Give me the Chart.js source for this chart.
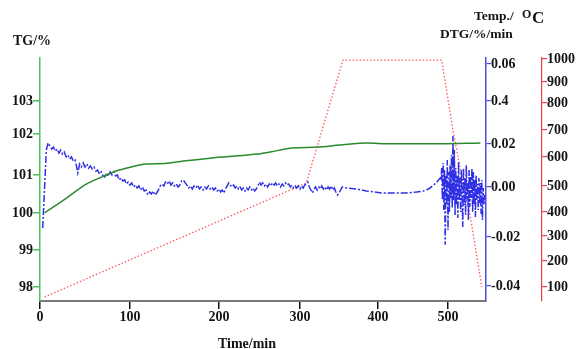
<!DOCTYPE html>
<html>
<head>
<meta charset="utf-8">
<script src="https://cdn.jsdelivr.net/npm/chart.js@4.4.1/dist/chart.umd.min.js"></script>
<style>
  body { margin: 0; background: #fff; }
  #wrap { width: 576px; height: 349px; }
</style>
</head>
<body>
<div id="wrap"><canvas id="tgChart" width="576" height="349"></canvas></div>
<script>
// ---- data: [time (min), value] ----
const tgPoints = [
  [5, 100.0], [31, 100.42], [50, 100.74], [69, 100.95], [88, 101.12], [106, 101.22],
  [117, 101.27], [139, 101.28], [160, 101.34], [190, 101.41], [247, 101.51], [263, 101.56],
  [291, 101.66], [322, 101.68], [351, 101.73], [386, 101.78], [417, 101.76], [489, 101.76],
  [546, 101.78]
];

const tempPoints = [
  [5, 60], [308, 510], [355, 995], [491, 995], [507, 700], [517, 565],
  [521, 515], [531, 395], [548, 100]
];

// DTG: first rise and noisy part up to ~355 min
const dtgEarly = [
  [3, -0.0164], [5, -0.0012], [7, 0.0172], [9, 0.0205], [11, 0.019], [13, 0.0177],
  [15, 0.0186], [17, 0.0167], [19, 0.0177], [21, 0.0158], [23, 0.0172], [25, 0.0153],
  [27, 0.0163], [29, 0.014], [31, 0.0149], [33, 0.013], [35, 0.014], [37, 0.0121],
  [39, 0.0126], [41, 0.0088], [42, 0.0065], [44, 0.0107], [46, 0.0093], [48, 0.0112],
  [50, 0.0093], [52, 0.0107], [54, 0.0088], [56, 0.0098], [58, 0.0084], [60, 0.0093],
  [62, 0.0074], [64, 0.0079], [66, 0.006], [68, 0.007], [70, 0.0051], [72, 0.0047],
  [74, 0.0065], [76, 0.0051], [78, 0.007], [80, 0.0056], [82, 0.007], [84, 0.0051],
  [86, 0.0056], [88, 0.0033], [90, 0.0042], [92, 0.0028], [94, 0.0033], [96, 0.0014],
  [98, 0.0023], [100, 0.0009], [102, 0.0019], [104, 0], [106, 0.0009], [108, -0.0004],
  [110, 0.0005], [112, -0.0012], [114, 0], [116, -0.0016], [118, -0.0012], [120, -0.0032],
  [122, -0.002], [124, -0.0028], [126, -0.0016], [128, -0.0032], [130, -0.0024], [132, -0.0012],
  [134, 0.0005], [136, 0.0014], [138, 0.0005], [140, 0.0023], [142, 0.0014], [144, 0.0028],
  [146, 0.0009], [148, 0.0019], [150, 0.0005], [152, 0.0014], [154, 0], [156, 0.0009],
  [158, 0.0028], [160, 0.0033], [162, 0.0019], [164, 0.0009], [166, -0.0004], [168, 0.0005],
  [170, -0.0008], [172, 0.0005], [174, -0.0004], [176, 0.0009], [178, -0.0008], [180, 0],
  [182, -0.0012], [184, 0], [186, -0.0008], [188, 0.0005], [190, -0.0008], [192, 0],
  [194, -0.0012], [196, -0.0004], [198, -0.0016], [200, -0.0008], [202, -0.002], [204, -0.0012],
  [206, -0.0024], [208, -0.0008], [210, 0.0005], [212, 0.0019], [214, 0.0009], [216, 0],
  [218, 0.0009], [220, -0.0004], [222, 0.0005], [224, -0.0008], [226, 0], [228, -0.0012],
  [230, -0.0004], [232, -0.0016], [234, -0.0004], [236, -0.0012], [238, 0], [240, -0.0012],
  [242, -0.0004], [244, -0.0016], [246, -0.0008], [248, 0.0005], [250, 0.0023], [252, 0.0009],
  [254, 0.0019], [256, 0.0005], [258, 0.0014], [260, 0], [262, 0.0014], [264, 0.0005],
  [266, 0.0019], [268, 0.0009], [270, 0.0019], [272, 0.0005], [274, 0.0014], [276, 0],
  [278, 0.0014], [280, 0.0005], [282, 0.0019], [284, 0.0009], [286, 0.0014], [288, 0],
  [290, 0.0009], [292, -0.0004], [294, 0.0005], [296, -0.0004], [298, 0.0005], [300, -0.0008],
  [302, 0.0005], [304, -0.0004], [306, 0.0009], [308, 0.0014], [310, 0.0023], [312, 0],
  [314, -0.0012], [316, -0.0024], [318, -0.0008], [320, 0], [322, -0.0012], [324, 0],
  [326, -0.0008], [328, 0.0005], [330, -0.0008], [332, 0], [334, -0.0012], [336, 0],
  [338, -0.0008], [340, 0.0005], [342, -0.0012], [344, -0.0004], [346, -0.002], [348, -0.0032],
  [350, -0.0024], [352, -0.0012], [354, 0]
];

// DTG: quiet stretch during the 1000 C hold
const dtgQuiet = [
  [360, -0.0004], [373, -0.0008], [385, -0.0016], [395, -0.002], [405, -0.0024], [420, -0.0024],
  [440, -0.0024], [455, -0.002], [465, -0.0016], [472, -0.0008], [478, 0.0005], [484, 0.0023],
  [489, 0.0042]
];

// DTG: noisy part during cooling
const dtgLate = [
  [490, 0.0033], [491, 0.0088], [492, -0.0052], [493, 0.0112], [494, -0.0092], [495, 0.0079],
  [496, -0.0232], [497, 0.0056], [498, -0.0072], [499, 0.0126], [500, -0.0172], [501, 0.007],
  [502, -0.01], [503, 0.0102], [504, -0.0044], [505, 0.0149], [506, -0.0084], [507, 0.0237],
  [508, -0.0052], [509, 0.0172], [510, -0.0112], [511, 0.0088], [512, -0.0072], [513, 0.0056],
  [514, -0.0124], [515, 0.0116], [516, -0.0052], [517, 0.0042], [518, -0.01], [519, 0.0079],
  [520, -0.0032], [521, -0.016], [522, 0.0088], [523, -0.0072], [524, 0.0042], [525, -0.0112],
  [526, 0.0102], [527, -0.0052], [528, 0.0023], [529, -0.0132], [530, 0.0079], [531, -0.008],
  [532, 0.0051], [533, -0.0044], [534, 0.0088], [535, -0.01], [536, 0.007], [537, -0.0072],
  [538, 0.0033], [539, -0.012], [540, 0.0056], [541, -0.0052], [542, 0.0014], [543, -0.0092],
  [544, 0.0042], [545, -0.0064], [546, 0.0019], [547, -0.0108], [548, 0.0033], [549, -0.0132],
  [550, -0.0004], [551, -0.0072], [552, -0.0032]
];

const timeTicks = [0, 100, 200, 300, 400, 500];
const tgTicks = [98, 99, 100, 101, 102, 103];
const dtgTicks = [-0.04, -0.02, 0, 0.02, 0.04, 0.06];
const tempTicks = [100, 200, 300, 400, 500, 600, 700, 800, 900, 1000];

// ---- axis layout: the original axes are not evenly spaced, so each scale
// maps its tick values onto the pixel positions they had in the figure ----
const AREA = { left: 40, right: 486, top: 58, bottom: 301 };
const WARP = {
  x:    { values: [0, 100, 200, 300, 400, 500, 554], px: [40, 130, 219, 300, 378, 448, 486] },
  tg:   { values: [97.62, 98, 99, 100, 101, 102, 103, 104.3], px: [301, 287, 250, 213, 175, 134, 101, 58] },
  dtg:  { values: [-0.0461, -0.04, -0.02, 0, 0.02, 0.04, 0.06, 0.0632], px: [301, 286, 237, 187, 144, 101, 64, 58] },
  temp: { values: [44, 100, 200, 300, 400, 500, 600, 700, 800, 900, 1000, 1004],
          px: [301, 287, 261, 236, 212, 186, 157, 130, 103, 82, 59, 58] }
};

function fractionsFor(id) {
  const w = WARP[id];
  if (id === 'x') return w.px.map(p => (p - AREA.left) / (AREA.right - AREA.left));
  return w.px.map(p => (AREA.bottom - p) / (AREA.bottom - AREA.top));
}

function interp(xs, ys, v) {
  let i = 0;
  while (i < xs.length - 2 && v > xs[i + 1]) i++;
  return ys[i] + (v - xs[i]) / (xs[i + 1] - xs[i]) * (ys[i + 1] - ys[i]);
}

class WarpScale extends Chart.LinearScale {
  static id = 'warp';
  static defaults = {};
  getPixelForValue(value) {
    if (value === null || value === undefined) return NaN;
    const w = WARP[this.id];
    return this.getPixelForDecimal(interp(w.values, fractionsFor(this.id), value));
  }
  getValueForPixel(pixel) {
    const w = WARP[this.id];
    return interp(fractionsFor(this.id), w.values, this.getDecimalForPixel(pixel));
  }
}
Chart.register(WarpScale);

const toXY = (pts) => pts.map(p => ({ x: p[0], y: p[1] }));
const fixTicks = (list) => (scale) => { scale.ticks = list.map(v => ({ value: v })); };

const tickFont = { family: "'Liberation Serif', 'DejaVu Serif', serif", size: 14, weight: 'bold' };

const axisTitles = {
  id: 'axisTitles',
  afterDraw(chart) {
    const ctx = chart.ctx;
    const fam = "'Liberation Serif', 'DejaVu Serif', serif";
    ctx.save();
    ctx.fillStyle = '#141414';
    ctx.textAlign = 'center';
    ctx.font = 'bold 14px ' + fam;
    ctx.fillText('TG/%', 32, 45);
    ctx.fillText('Time/min', 247, 348);
    ctx.textAlign = 'left';
    ctx.font = 'bold 13.5px ' + fam;
    ctx.fillText('Temp./', 474, 20);
    ctx.fillText('DTG/%/min', 440, 38);
    ctx.font = 'bold 12px ' + fam;
    ctx.fillText('O', 522, 18);
    ctx.font = 'bold 17px ' + fam;
    ctx.fillText('C', 532, 23);
    ctx.restore();
  }
};

new Chart(document.getElementById('tgChart'), {
  type: 'line',
  data: {
    datasets: [
      {
        label: 'TG',
        data: toXY(tgPoints),
        yAxisID: 'tg',
        borderColor: '#2b8a2b',
        borderWidth: 1.5,
        cubicInterpolationMode: 'monotone',
        pointRadius: 0
      },
      {
        label: 'DTG',
        data: toXY(dtgEarly.concat(dtgQuiet, dtgLate)),
        yAxisID: 'dtg',
        borderColor: '#2f2fe6',
        borderWidth: 1.5,
        borderDash: [7, 2, 2, 2],
        pointRadius: 0
      },
      {
        label: 'Temp',
        data: toXY(tempPoints),
        yAxisID: 'temp',
        borderColor: '#ff5858',
        borderWidth: 1.3,
        borderDash: [1.5, 2],
        pointRadius: 0
      }
    ]
  },
  options: {
    responsive: false,
    animation: false,
    layout: { padding: { top: AREA.top, left: 0, right: 0, bottom: 0 } },
    plugins: { legend: { display: false }, tooltip: { enabled: false } },
    scales: {
      x: {
        type: 'warp',
        position: 'bottom',
        min: 0,
        max: 554,
        afterBuildTicks: fixTicks(timeTicks),
        afterFit: (s) => { s.height = 48; },
        grid: { drawOnChartArea: false, tickLength: 8, color: '#111', lineWidth: 1.5 },
        border: { color: '#7a7a7a', width: 2 },
        ticks: { autoSkip: false, maxRotation: 0, padding: 0, color: '#141414', font: tickFont,
                 callback: (v) => String(v) }
      },
      tg: {
        type: 'warp',
        position: 'left',
        min: 97.62,
        max: 104.3,
        afterBuildTicks: fixTicks(tgTicks),
        afterFit: (s) => { s.width = 40; },
        grid: { drawOnChartArea: false, tickLength: 7, color: '#4fbf60', lineWidth: 1.5 },
        border: { color: '#4fbf60', width: 1.5 },
        ticks: { autoSkip: false, padding: 0, color: '#141414', font: tickFont,
                 callback: (v) => String(v) }
      },
      dtg: {
        type: 'warp',
        position: 'right',
        weight: 0,
        min: -0.0461,
        max: 0.0632,
        afterBuildTicks: fixTicks(dtgTicks),
        afterFit: (s) => { s.width = 56; },
        grid: { drawOnChartArea: false, tickLength: 5, color: '#4a4ae0', lineWidth: 1.2 },
        border: { color: '#4a4ae0', width: 1.5 },
        ticks: { autoSkip: false, padding: 0, color: '#141414', font: tickFont,
                 callback: (v) => (Math.abs(v - 0.04) < 1e-9 ? '0.4' : v.toFixed(2)) }
      },
      temp: {
        type: 'warp',
        position: 'right',
        weight: 1,
        min: 44,
        max: 1004,
        afterBuildTicks: fixTicks(tempTicks),
        afterFit: (s) => { s.width = 34; },
        grid: { drawOnChartArea: false, tickLength: 5, color: '#ee3b3b', lineWidth: 1.2 },
        border: { color: '#ee3b3b', width: 1.2 },
        ticks: { autoSkip: false, padding: 0, color: '#141414', font: tickFont,
                 callback: (v) => String(v) }
      }
    }
  },
  plugins: [axisTitles]
});
</script>
</body>
</html>
